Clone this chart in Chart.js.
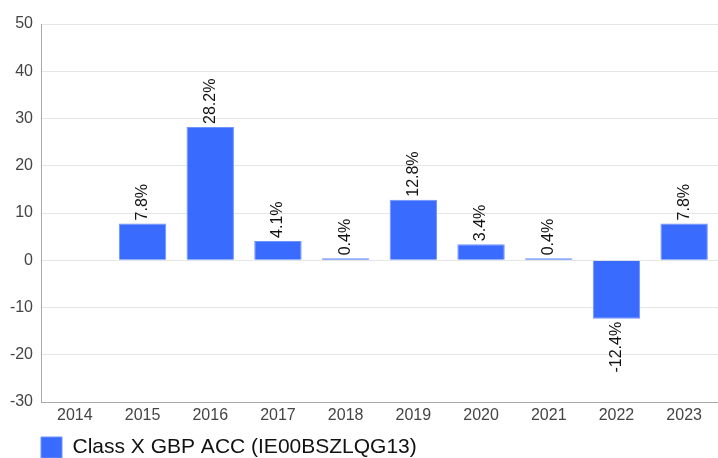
<!DOCTYPE html>
<html>
<head>
<meta charset="utf-8">
<script src="https://cdn.jsdelivr.net/npm/chart.js@4/dist/chart.umd.min.js"></script>
<style>
  html, body { margin: 0; padding: 0; background: #fff; }
  #wrap { width: 718px; height: 458px; position: relative; }
</style>
</head>
<body>
<div id="wrap"><canvas id="c" width="718" height="458"></canvas></div>
<script>
const categories = ["2014", "2015", "2016", "2017", "2018", "2019", "2020", "2021", "2022", "2023"];
const seriesLabel = "Class X GBP ACC (IE00BSZLQG13)";
const seriesValues = [null, 7.8, 28.2, 4.1, 0.4, 12.8, 3.4, 0.4, -12.4, 7.8];
const yTicks = [-30, -20, -10, 0, 10, 20, 30, 40, 50];

const FONT = "Arial, 'Liberation Sans', Helvetica, sans-serif";

const valueLabels = {
  id: 'valueLabels',
  afterDatasetsDraw(chart) {
    const ctx = chart.ctx;
    const meta = chart.getDatasetMeta(0);
    ctx.save();
    ctx.font = "16px " + FONT;
    ctx.fillStyle = "#111";
    ctx.textBaseline = "middle";
    meta.data.forEach((bar, i) => {
      const v = seriesValues[i];
      if (v === null || v === undefined) return;
      const txt = v.toFixed(1) + "%";
      ctx.save();
      ctx.translate(bar.x, bar.y);
      ctx.rotate(-Math.PI / 2);
      if (v >= 0) {
        ctx.textAlign = "left";
        ctx.fillText(txt, 3, 0);
      } else {
        ctx.textAlign = "right";
        ctx.fillText(txt, -3, 0);
      }
      ctx.restore();
    });
    ctx.restore();
  }
};

const legendShift = {
  id: 'legendShift',
  afterLayout(chart) {
    const lg = chart.legend;
    const pad = lg.options.labels.padding;
    const dx = chart.chartArea.left - pad - lg.left;
    lg.left += dx; lg.right += dx;
    const dy = 437 - pad - lg.top;
    lg.top += dy; lg.bottom += dy;
  }
};

new Chart(document.getElementById('c'), {
  type: 'bar',
  data: {
    labels: categories,
    datasets: [{
      label: seriesLabel,
      data: seriesValues,
      backgroundColor: '#3a6bff',
      borderColor: '#6f93ff',
      borderWidth: 1,
      barPercentage: 0.7,
      categoryPercentage: 1.0
    }]
  },
  options: {
    responsive: false,
    animation: false,
    devicePixelRatio: 1,
    layout: { padding: { top: 24, right: 0, left: 0, bottom: 0 } },
    plugins: {
      tooltip: { enabled: false },
      legend: {
        position: 'bottom',
        align: 'start',
        labels: {
          boxWidth: 21,
          boxHeight: 21,
          padding: 5,
          color: '#111',
          font: { size: 21, family: FONT }
        }
      }
    },
    scales: {
      x: {
        grid: { display: false, drawTicks: false },
        border: { display: true, color: '#aaaaaa', width: 1 },
        ticks: { color: '#444', font: { size: 16, family: FONT }, padding: 4 },
        afterFit(scale) { scale.height = 20; }
      },
      y: {
        min: -30, max: 50,
        afterBuildTicks(scale) { scale.ticks = yTicks.map(v => ({ value: v })); },
        grid: { color: '#e6e6e6', drawTicks: false },
        border: { display: true, color: '#aaaaaa', width: 1 },
        ticks: { color: '#444', font: { size: 16, family: FONT }, padding: 8 },
        afterFit(scale) { scale.width = 41; }
      }
    }
  },
  plugins: [valueLabels, legendShift]
});
</script>
</body>
</html>
